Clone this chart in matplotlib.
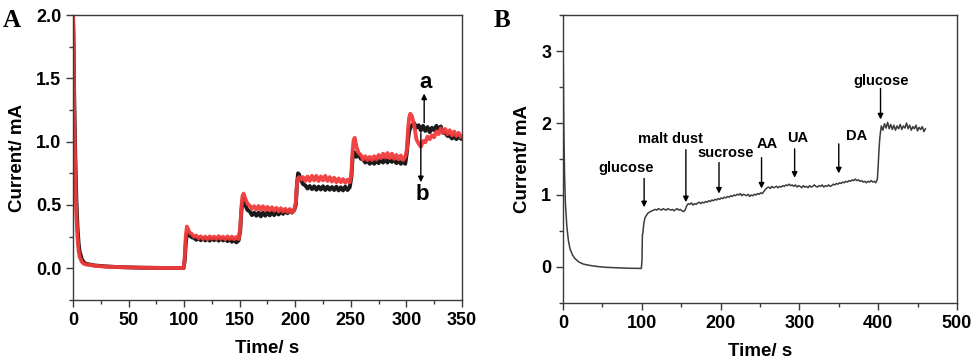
import matplotlib
matplotlib.use('Agg')
import matplotlib.pyplot as plt
from matplotlib.ticker import MultipleLocator

plt.rcParams['font.family'] = ['Liberation Sans', 'DejaVu Sans']
plt.rcParams['font.weight'] = 'bold'

# ---- panel A: two amperometric traces (a = black, b = red) ----
a_time = [0, 0.5, 1, 2, 3, 4, 5, 6, 8, 10, 12, 15, 20, 30, 40, 60, 80, 99.5,
          100.5, 101.5, 102.5, 103.5, 105, 107, 109, 111, 113, 115, 117, 119, 121, 123,
          125, 127, 129, 131, 133, 135, 137, 139, 141, 143, 145, 147, 149,
          150.5, 151.5, 152.5, 153.5, 155, 157, 159, 161, 163, 165, 167, 169, 171, 173,
          175, 177, 179, 181, 183, 185, 187, 189, 191, 193, 195, 197, 199,
          200.5, 201.5, 202.5, 203.5, 205, 207, 209, 211, 213, 215, 217, 219, 221, 223,
          225, 227, 229, 231, 233, 235, 237, 239, 241, 243, 245, 247, 249,
          250.5, 251.5, 252.5, 253.5, 255, 257, 259, 261, 263, 265, 267, 269, 271, 273,
          275, 277, 279, 281, 283, 285, 287, 289, 291, 293, 295, 297, 299,
          300.5, 301.5, 302.5, 303.5, 305, 307, 309, 311, 313, 315, 317, 319, 321, 323,
          325, 327, 329, 331, 333, 335, 337, 339, 341, 343, 345, 347, 349]

curve_a = [2.0, 1.8, 1.4, 0.9, 0.55, 0.33, 0.2, 0.13, 0.07, 0.045, 0.035, 0.03, 0.022, 0.015, 0.01, 0.005, 0.003, 0.003,
           0.06, 0.20, 0.27, 0.28, 0.26, 0.245, 0.24, 0.225, 0.24, 0.222, 0.238, 0.22, 0.236, 0.218,
           0.24, 0.222, 0.235, 0.218, 0.238, 0.22, 0.232, 0.215, 0.23, 0.21, 0.225, 0.205, 0.22,
           0.30, 0.45, 0.53, 0.55, 0.50, 0.46, 0.45, 0.42, 0.44, 0.415, 0.44, 0.41, 0.44, 0.415,
           0.44, 0.418, 0.442, 0.42, 0.445, 0.425, 0.45, 0.43, 0.455, 0.435, 0.46, 0.44, 0.46,
           0.50, 0.66, 0.75, 0.74, 0.70, 0.665, 0.655, 0.63, 0.65, 0.625, 0.648, 0.62, 0.645, 0.622,
           0.648, 0.618, 0.645, 0.62, 0.642, 0.618, 0.645, 0.615, 0.64, 0.615, 0.645, 0.618, 0.64,
           0.72, 0.86, 0.92, 0.91, 0.88, 0.90, 0.865, 0.86, 0.835, 0.855, 0.825, 0.85, 0.825, 0.855,
           0.83, 0.86, 0.835, 0.865, 0.835, 0.86, 0.84, 0.86, 0.83, 0.85, 0.825, 0.845, 0.825,
           0.92, 1.02, 1.08, 1.11, 1.13, 1.145, 1.11, 1.13, 1.09, 1.125, 1.085, 1.115, 1.075, 1.11,
           1.09, 1.125, 1.10, 1.12, 1.07, 1.07, 1.045, 1.05, 1.025, 1.045, 1.02, 1.04, 1.025]

curve_b = [2.0, 1.7, 1.25, 0.75, 0.42, 0.25, 0.14, 0.09, 0.05, 0.035, 0.03, 0.027, 0.02, 0.013, 0.01, 0.005, 0.003, 0.003,
           0.09, 0.26, 0.33, 0.31, 0.28, 0.27, 0.25, 0.258, 0.238, 0.252, 0.232, 0.25, 0.23, 0.252,
           0.235, 0.25, 0.232, 0.254, 0.234, 0.25, 0.23, 0.252, 0.232, 0.25, 0.23, 0.248, 0.232,
           0.32, 0.48, 0.57, 0.59, 0.55, 0.51, 0.495, 0.47, 0.49, 0.465, 0.492, 0.462, 0.49, 0.46,
           0.485, 0.458, 0.482, 0.455, 0.478, 0.45, 0.475, 0.448, 0.47, 0.445, 0.468, 0.442, 0.46,
           0.52, 0.66, 0.71, 0.72, 0.70, 0.72, 0.69, 0.725, 0.69, 0.73, 0.695, 0.73, 0.69, 0.725,
           0.695, 0.73, 0.69, 0.72, 0.685, 0.715, 0.68, 0.71, 0.68, 0.705, 0.675, 0.70, 0.68,
           0.74, 0.92, 1.01, 1.03, 0.96, 0.91, 0.895, 0.86, 0.885, 0.855, 0.88, 0.855, 0.885, 0.86,
           0.895, 0.87, 0.905, 0.875, 0.91, 0.87, 0.905, 0.865, 0.895, 0.86, 0.89, 0.855, 0.88,
           0.94, 1.10, 1.19, 1.22, 1.20, 1.13, 1.02, 0.985, 0.96, 1.005, 0.995, 1.04, 1.02, 1.05,
           1.035, 1.08, 1.06, 1.105, 1.07, 1.10, 1.06, 1.09, 1.05, 1.08, 1.045, 1.07, 1.04]

# ---- panel B: interference test trace ----
b_time = [0.3, 1, 2, 3, 5, 7, 9, 12, 15, 20, 26, 35, 45, 55, 70, 85, 99.5,
          100.3, 100.8, 101.5, 102.5, 104, 106, 108, 111,
          113, 115, 117, 119, 121, 123, 125, 127, 129, 131,
          133, 135, 137, 139, 141, 143, 145, 147, 149, 151,
          153, 155, 157, 159, 161, 163, 165, 167, 169, 171,
          173, 175, 177, 179, 181, 183, 185, 187, 189, 191,
          193, 195, 197, 199, 201, 203, 205, 207, 209, 211,
          213, 215, 217, 219, 221, 223, 225, 227, 229, 231,
          233, 235, 237, 239, 241, 243, 245, 247, 249, 251,
          253, 255, 257, 259, 261, 263, 265, 267, 269, 271,
          273, 275, 277, 279, 281, 283, 285, 287, 289, 291,
          293, 295, 297, 299, 301, 303, 305, 307, 309, 311,
          313, 315, 317, 319, 321, 323, 325, 327, 329, 331,
          333, 335, 337, 339, 341, 343, 345, 347, 349, 351,
          353, 355, 357, 359, 361, 363, 365, 367, 369, 371,
          373, 375, 377, 379, 381, 383, 385, 387, 389, 391,
          393, 395, 397,
          399, 400, 401, 402, 403, 404,
          406, 408, 410, 412, 414, 416, 418, 420, 422, 424, 426, 428, 430, 432,
          434, 436, 438, 440, 442, 444, 446, 448, 450, 452, 454, 456, 458, 460]

curve_sel = [3.0, 2.0, 1.3, 0.9, 0.55, 0.36, 0.25, 0.17, 0.12, 0.07, 0.04, 0.02, 0.005, -0.005, -0.012, -0.018, -0.02,
             0.10, 0.45, 0.48, 0.60, 0.68, 0.72, 0.75, 0.77,
             0.78, 0.79, 0.80, 0.79, 0.81, 0.80, 0.79, 0.81, 0.80, 0.79,
             0.81, 0.80, 0.79, 0.80, 0.78, 0.80, 0.81, 0.79, 0.80, 0.78,
             0.77, 0.79, 0.85, 0.88, 0.87, 0.89, 0.86, 0.88, 0.87, 0.89,
             0.90, 0.88, 0.90, 0.89, 0.91, 0.90, 0.92, 0.91, 0.93, 0.92,
             0.94, 0.93, 0.95, 0.94, 0.96, 0.95, 0.97, 0.96, 0.98, 0.97,
             0.99, 0.98, 1.00, 0.99, 1.01, 1.00, 1.02, 0.99, 1.01, 1.00,
             0.99, 1.01, 0.98, 1.00, 0.99, 1.01, 1.00, 1.02, 1.01, 1.03,
             1.02, 1.05, 1.08, 1.10, 1.11, 1.09, 1.12, 1.10, 1.11, 1.12,
             1.10, 1.12, 1.11, 1.13, 1.12, 1.14, 1.13, 1.15, 1.13, 1.14,
             1.12, 1.14, 1.11, 1.13, 1.12, 1.10, 1.13, 1.11, 1.12, 1.10,
             1.13, 1.11, 1.12, 1.14, 1.12, 1.11, 1.13, 1.12, 1.14, 1.11,
             1.13, 1.12, 1.14, 1.12, 1.13, 1.15, 1.14, 1.16, 1.15, 1.17,
             1.16, 1.18, 1.17, 1.19, 1.18, 1.20, 1.19, 1.21, 1.20, 1.22,
             1.20, 1.21, 1.19, 1.20, 1.18, 1.19, 1.17, 1.19, 1.18, 1.20,
             1.18, 1.19, 1.17,
             1.22, 1.40, 1.62, 1.78, 1.88, 1.96,
             1.90, 1.99, 1.93, 2.01, 1.92, 1.98, 1.91, 1.97, 1.90, 1.96, 1.92, 1.98, 1.91, 1.96,
             1.93, 2.00, 1.92, 1.97, 1.90, 1.95, 1.92, 1.97, 1.89, 1.94, 1.91, 1.95, 1.88, 1.92]

# labels for additions in B: (text, label x, label y, arrow x, arrow top, arrow tip)
add_names = ['glucose', 'malt dust', 'sucrose', 'AA', 'UA', 'DA', 'glucose']
add_label_x = [80, 136, 206, 259, 298, 373, 404]
add_label_y = [1.38, 1.78, 1.59, 1.71, 1.79, 1.82, 2.58]
add_arrow_x = [103, 156, 198, 252, 294, 350, 403]
add_arrow_top = [1.23, 1.63, 1.45, 1.52, 1.64, 1.71, 2.48]
add_arrow_tip = [0.83, 0.90, 1.02, 1.09, 1.24, 1.30, 2.05]

spine_col = '#3a3a3a'


def style_axes(ax):
    for sp in ax.spines.values():
        sp.set_color(spine_col)
        sp.set_linewidth(1.0)
    ax.tick_params(which='both', direction='out', color=spine_col, width=1.0,
                   top=False, right=False, labelsize=13)
    ax.tick_params(which='major', length=5)
    ax.tick_params(which='minor', length=3)
    for lab in ax.get_xticklabels() + ax.get_yticklabels():
        lab.set_fontweight('bold')
    ax.set_xlabel('Time/ s', fontsize=13.5, fontweight='bold', labelpad=8)
    ax.set_ylabel('Current/ mA', fontsize=13.5, fontweight='bold', labelpad=7)


fig = plt.figure(figsize=(9.75, 3.61), dpi=100)
axA = fig.add_axes([0.0749, 0.169, 0.3989, 0.7894])
axB = fig.add_axes([0.5774, 0.1607, 0.4041, 0.7977])

axA.plot(a_time, curve_a, color='#1a1a1a', lw=2.8, solid_joinstyle='round')
axA.plot(a_time, curve_b, color='#f23b3b', lw=2.8, alpha=0.95, solid_joinstyle='round')
axA.set_xlim(0, 350)
axA.set_ylim(-0.25, 2.0)
axA.xaxis.set_major_locator(MultipleLocator(50))
axA.xaxis.set_minor_locator(MultipleLocator(25))
axA.yaxis.set_major_locator(MultipleLocator(0.5))
axA.yaxis.set_minor_locator(MultipleLocator(0.25))
axA.yaxis.set_major_formatter('{x:.1f}')
style_axes(axA)

arrow_kw = dict(arrowstyle='-|>', color='k', lw=1.0, mutation_scale=8, shrinkA=0, shrinkB=0)
axA.annotate('', xy=(316, 1.38), xytext=(316, 1.15), arrowprops=arrow_kw)
axA.annotate('', xy=(313, 0.68), xytext=(313, 1.07), arrowprops=arrow_kw)
axA.text(317, 1.47, 'a', fontsize=16, fontweight='bold', ha='center', va='center')
axA.text(314, 0.58, 'b', fontsize=16, fontweight='bold', ha='center', va='center')

axB.plot(b_time, curve_sel, color='#3c3c3c', lw=1.1)
axB.set_xlim(0, 500)
axB.set_ylim(-0.5, 3.5)
axB.xaxis.set_major_locator(MultipleLocator(100))
axB.xaxis.set_minor_locator(MultipleLocator(50))
axB.yaxis.set_major_locator(MultipleLocator(1))
axB.yaxis.set_minor_locator(MultipleLocator(0.5))
style_axes(axB)

for name, lx, ly, ax_x, top, tip in zip(add_names, add_label_x, add_label_y,
                                        add_arrow_x, add_arrow_top, add_arrow_tip):
    axB.text(lx, ly, name, fontsize=10.5, fontweight='bold', ha='center', va='center')
    axB.annotate('', xy=(ax_x, tip), xytext=(ax_x, top), arrowprops=arrow_kw)

fig.text(0.003, 0.975, 'A', fontsize=18, fontweight='bold', family='Liberation Serif', va='top')
fig.text(0.506, 0.975, 'B', fontsize=18, fontweight='bold', family='Liberation Serif', va='top')

fig.savefig('out.png', dpi=100)
